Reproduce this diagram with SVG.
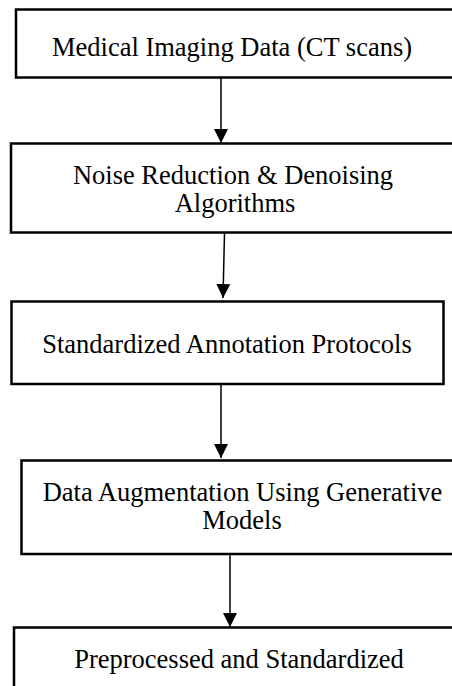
<svg xmlns="http://www.w3.org/2000/svg" width="452" height="686" viewBox="0 0 452 686">
  <style>
    .box { fill: #ffffff; stroke: #000000; stroke-width: 2.5; }
    .label { font-family: 'Liberation Serif', 'Times New Roman', 'DejaVu Serif', serif; font-size: 26.5px; fill: #000000; text-anchor: middle; }
    .conn { stroke: #000000; stroke-width: 1.5; fill: none; marker-end: url(#arrow); }
  </style>
  <defs>
    <marker id="arrow" viewBox="0 0 14 15" refX="14" refY="7" markerWidth="14" markerHeight="15" markerUnits="userSpaceOnUse" orient="auto">
      <path d="M0,0 L14,7 L0,14 Z" fill="#000000"/>
    </marker>
  </defs>

  <rect width="452" height="686" fill="#ffffff"/>

  <!-- connectors -->
  <g id="connectors">
    <line class="conn" x1="221" y1="78" x2="221" y2="143"/>
    <line class="conn" x1="224.5" y1="233" x2="223" y2="298"/>
    <line class="conn" x1="221" y1="382" x2="221" y2="458"/>
    <line class="conn" x1="230" y1="554" x2="230" y2="627"/>
  </g>

  <!-- process steps -->
  <g id="step-imaging-data">
    <rect class="box" x="16" y="9.5" width="450" height="68"/>
    <text class="label" x="232" y="56">Medical Imaging Data (CT scans)</text>
  </g>

  <g id="step-noise-reduction">
    <rect class="box" x="11" y="143.5" width="455" height="89"/>
    <text class="label" y="184"><tspan x="233">Noise Reduction &amp; Denoising</tspan><tspan x="235" dy="27.6">Algorithms</tspan></text>
  </g>

  <g id="step-annotation">
    <rect class="box" x="11.5" y="301.5" width="432" height="82.5"/>
    <text class="label" x="227" y="352.5">Standardized Annotation Protocols</text>
  </g>

  <g id="step-augmentation">
    <rect class="box" x="21.5" y="460.5" width="445" height="93.5"/>
    <text class="label" y="501"><tspan x="242.5">Data Augmentation Using Generative</tspan><tspan x="242" dy="27.6">Models</tspan></text>
  </g>

  <g id="step-preprocessed">
    <rect class="box" x="14" y="627.5" width="452" height="80"/>
    <text class="label" x="239" y="668">Preprocessed and Standardized</text>
  </g>
</svg>
